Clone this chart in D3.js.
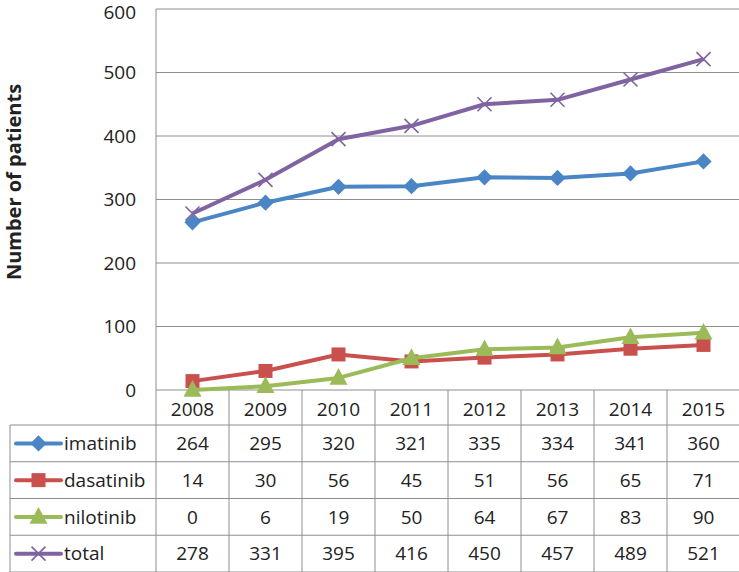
<!DOCTYPE html>
<html>
<head>
<meta charset="utf-8">
<script src="https://cdn.jsdelivr.net/npm/d3@7"></script>
<style>
  body { margin: 0; background: #fff; }
  text { font-family: "Open Sans", "Noto Sans", sans-serif; fill: #222; }
</style>
</head>
<body>
<div id="chart"></div>
<script>
// data
const years = ["2008", "2009", "2010", "2011", "2012", "2013", "2014", "2015"];
const imatinib = [264, 295, 320, 321, 335, 334, 341, 360];
const dasatinib = [14, 30, 56, 45, 51, 56, 65, 71];
const nilotinib = [0, 6, 19, 50, 64, 67, 83, 90];
const total = [278, 331, 395, 416, 450, 457, 489, 521];
const yTicks = [0, 100, 200, 300, 400, 500, 600];

const series = [
  { name: "imatinib", values: imatinib, color: "#4a86c5", marker: "diamond" },
  { name: "dasatinib", values: dasatinib, color: "#c9504d", marker: "square" },
  { name: "nilotinib", values: nilotinib, color: "#9bbb59", marker: "triangle" },
  { name: "total", values: total, color: "#8064a2", marker: "x" },
];

const W = 739, H = 572;
const plot = { left: 156, right: 740, top: 9, bottom: 390 };
const tableLeft = 10, headerBottom = 425, rowH = 36.75;
const gridColor = "#8e8e8e";
const fs = "19px";

const svg = d3.select("#chart").append("svg")
  .attr("width", W).attr("height", H);

const x = d3.scaleBand().domain(years).range([plot.left, plot.right]);
const y = d3.scaleLinear().domain([0, 600]).range([plot.bottom, plot.top]);

// horizontal gridlines
svg.append("g").selectAll("line").data(yTicks).join("line")
  .attr("x1", plot.left).attr("x2", plot.right)
  .attr("y1", d => y(d)).attr("y2", d => y(d))
  .attr("stroke", gridColor).attr("stroke-width", 1);

// y tick labels (top one nudged so it stays inside the picture)
svg.append("g").selectAll("text").data(yTicks).join("text")
  .attr("x", 136).attr("y", d => Math.max(y(d), 12))
  .attr("dy", "0.36em").attr("text-anchor", "end")
  .style("font-size", fs)
  .text(d => d);

// y axis line
svg.append("line")
  .attr("x1", plot.left).attr("x2", plot.left)
  .attr("y1", plot.top).attr("y2", H)
  .attr("stroke", gridColor);

// axis title
svg.append("text")
  .attr("transform", `translate(21,182) rotate(-90)`)
  .attr("text-anchor", "middle")
  .style("font-size", "20px").style("font-weight", "bold")
  .text("Number of patients");

// data table
const table = svg.append("g");
// column separators (below axis)
table.selectAll("line.col").data(years.slice(1).concat(["end"])).join("line")
  .attr("class", "col")
  .attr("x1", (d, i) => plot.left + x.bandwidth() * (i + 1))
  .attr("x2", (d, i) => plot.left + x.bandwidth() * (i + 1))
  .attr("y1", plot.bottom).attr("y2", H)
  .attr("stroke", gridColor);
// row separators
table.selectAll("line.row").data(d3.range(series.length + 1)).join("line")
  .attr("class", "row")
  .attr("x1", tableLeft).attr("x2", plot.right)
  .attr("y1", i => headerBottom + i * rowH)
  .attr("y2", i => headerBottom + i * rowH)
  .attr("stroke", gridColor);
table.append("line")
  .attr("x1", tableLeft).attr("x2", tableLeft)
  .attr("y1", headerBottom).attr("y2", H)
  .attr("stroke", gridColor);

// header years
table.selectAll("text.yr").data(years).join("text")
  .attr("class", "yr")
  .attr("x", d => x(d) + x.bandwidth() / 2)
  .attr("y", (plot.bottom + headerBottom) / 2 + 2)
  .attr("dy", "0.35em").attr("text-anchor", "middle")
  .style("font-size", fs)
  .text(d => d);

function marker(g, type, color, size) {
  if (type === "diamond") {
    g.append("path").attr("d", d3.symbol(d3.symbolDiamond2, size * size * 0.75)())
      .attr("fill", color);
  } else if (type === "square") {
    g.append("rect").attr("x", -size / 2).attr("y", -size / 2)
      .attr("width", size).attr("height", size).attr("fill", color);
  } else if (type === "triangle") {
    const s = size * 0.6;
    g.append("path").attr("d", `M0,${-s * 1.1}L${s},${s * 0.75}L${-s},${s * 0.75}Z`)
      .attr("fill", color);
  } else {
    const s = size / 2;
    g.append("path").attr("d", `M${-s},${-s}L${s},${s}M${-s},${s}L${s},${-s}`)
      .attr("stroke", color).attr("stroke-width", 1.6).attr("fill", "none");
  }
}

const markerSize = { diamond: 15, square: 14, triangle: 15, x: 14 };

series.forEach((s, r) => {
  const cy = headerBottom + rowH * r + rowH / 2;
  // legend key
  const key = table.append("g");
  key.append("line").attr("x1", 16).attr("x2", 61)
    .attr("y1", cy).attr("y2", cy)
    .attr("stroke", s.color).attr("stroke-width", 4).attr("stroke-linecap", "round");
  marker(key.append("g").attr("transform", `translate(38.5,${cy})`), s.marker, s.color, markerSize[s.marker]);
  key.append("text").attr("x", 64).attr("y", cy).attr("dy", "0.35em")
    .style("font-size", fs).text(s.name);
  // values
  table.selectAll(null).data(s.values).join("text")
    .attr("x", (d, i) => x(years[i]) + x.bandwidth() / 2)
    .attr("y", cy).attr("dy", "0.35em").attr("text-anchor", "middle")
    .style("font-size", fs)
    .text(d => d);
});

// lines and markers
const line = d3.line()
  .x((d, i) => x(years[i]) + x.bandwidth() / 2)
  .y(d => y(d));

series.forEach(s => {
  const g = svg.append("g");
  g.append("path").datum(s.values)
    .attr("d", line)
    .attr("fill", "none").attr("stroke", s.color)
    .attr("stroke-width", 4).attr("stroke-linejoin", "round");
  s.values.forEach((v, i) => {
    marker(g.append("g")
      .attr("transform", `translate(${x(years[i]) + x.bandwidth() / 2},${y(v)})`),
      s.marker, s.color, markerSize[s.marker]);
  });
});
</script>
</body>
</html>
